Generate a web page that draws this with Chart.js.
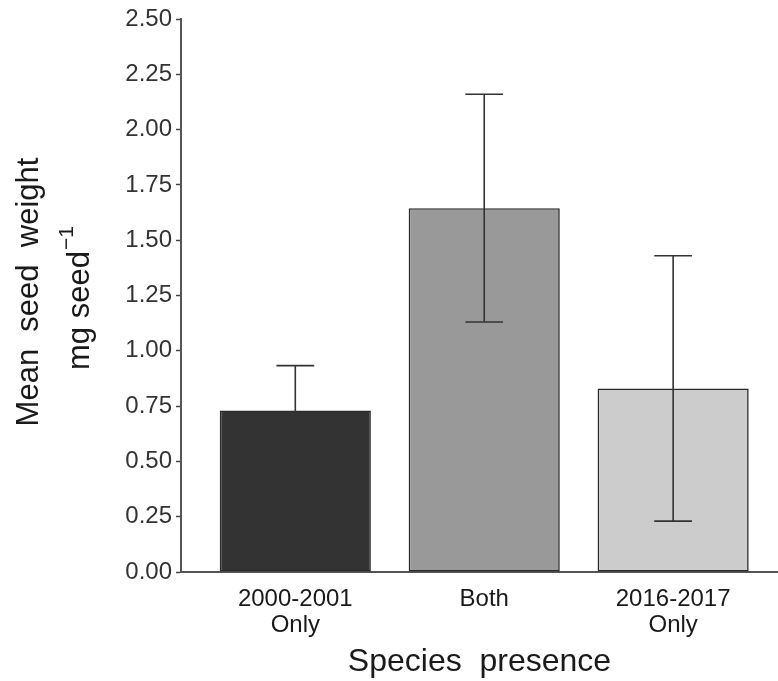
<!DOCTYPE html>
<html>
<head>
<meta charset="utf-8">
<script src="https://cdn.jsdelivr.net/npm/chart.js@4/dist/chart.umd.min.js"></script>
<style>
  html, body { margin: 0; padding: 0; background: #ffffff; }
  #wrap { width: 778px; height: 681px; }
</style>
</head>
<body>
<div id="wrap"><canvas id="c" width="778" height="681"></canvas></div>
<script>
// ---- data ----
const categories = [['2000-2001', 'Only'], ['Both'], ['2016-2017', 'Only']];
const meanWeight = [0.73, 1.645, 0.83];
const errorSize  = [0.203, 0.515, 0.60];
const barColors  = ['#333333', '#999999', '#cccccc'];
const yTicks     = [0, 0.25, 0.5, 0.75, 1.0, 1.25, 1.5, 1.75, 2.0, 2.25, 2.5];
const xTitle = 'Species  presence';
const yTitle1 = 'Mean  seed  weight';
const yTitle2 = 'mg seed';
const yTitleSup = '\u22121';

const FONT = "'Liberation Sans', Arial, sans-serif";

const errorBars = {
  id: 'errorBars',
  afterDatasetsDraw(chart) {
    const ctx = chart.ctx;
    const xs = chart.scales.x, ys = chart.scales.y;
    ctx.save();
    ctx.strokeStyle = '#333333';
    ctx.lineWidth = 1.6;
    meanWeight.forEach((m, i) => {
      const x = xs.getPixelForValue(i + 1);
      const half = (xs.getPixelForValue(1.1) - xs.getPixelForValue(1));
      const yTop = ys.getPixelForValue(m + errorSize[i]);
      const yBot = ys.getPixelForValue(m - errorSize[i]);
      ctx.beginPath();
      ctx.moveTo(x, yTop); ctx.lineTo(x, yBot);
      ctx.moveTo(x - half, yTop); ctx.lineTo(x + half, yTop);
      ctx.moveTo(x - half, yBot); ctx.lineTo(x + half, yBot);
      ctx.stroke();
    });
    ctx.restore();
  }
};

const yTitlePlugin = {
  id: 'yTitle',
  afterDraw(chart) {
    const ctx = chart.ctx;
    ctx.save();
    ctx.fillStyle = '#1a1a1a';
    ctx.textBaseline = 'middle';
    // line 1
    ctx.save();
    ctx.translate(29, 292);
    ctx.rotate(-Math.PI / 2);
    ctx.font = '31px ' + FONT;
    ctx.textAlign = 'center';
    ctx.fillText(yTitle1, 0, 0);
    ctx.restore();
    // line 2 with superscript
    ctx.save();
    ctx.translate(80, 370);
    ctx.rotate(-Math.PI / 2);
    ctx.font = '31px ' + FONT;
    ctx.textAlign = 'left';
    ctx.fillText(yTitle2, 0, 0);
    const w = ctx.measureText(yTitle2).width;
    ctx.font = '21px ' + FONT;
    ctx.fillText(yTitleSup, w + 1, -13);
    ctx.restore();
    ctx.restore();
  }
};

new Chart(document.getElementById('c'), {
  type: 'bar',
  data: {
    datasets: [{
      data: meanWeight.map((v, i) => ({ x: i + 1, y: v })),
      backgroundColor: barColors,
      borderColor: '#2a2a2a',
      borderWidth: 1.6,
      borderSkipped: false,
      barPercentage: 0.8,
      categoryPercentage: 1.0
    }]
  },
  options: {
    responsive: false,
    devicePixelRatio: 1,
    animation: false,
    layout: { padding: { left: 0, right: 0, top: 19, bottom: 0 } },
    plugins: { legend: { display: false }, tooltip: { enabled: false } },
    scales: {
      x: {
        type: 'linear',
        offset: false,
        min: 0.395,
        max: 3.555,
        afterBuildTicks: (s) => { s.ticks = categories.map((c, i) => ({ value: i + 1 })); },
        afterFit: (s) => { s.height = 109; },
        ticks: {
          autoSkip: false,
          maxRotation: 0,
          padding: 14,
          color: '#1a1a1a',
          font: { family: FONT, size: 24, lineHeight: 1.1 },
          callback: (v) => categories[Math.round(v) - 1]
        },
        grid: { display: false, drawTicks: false, offset: false },
        border: { display: true, color: '#555555', width: 2 },
        title: {
          display: true,
          text: xTitle,
          color: '#1a1a1a',
          font: { family: FONT, size: 32, lineHeight: 1.2 },
          padding: { top: 2, bottom: 0 }
        }
      },
      y: {
        min: 0,
        max: 2.5,
        afterBuildTicks: (s) => { s.ticks = yTicks.map(v => ({ value: v })); },
        afterFit: (s) => { s.width = 181; },
        ticks: {
          padding: 4,
          color: '#333333',
          font: { family: FONT, size: 24 },
          callback: (v) => Number(v).toFixed(2)
        },
        grid: { drawOnChartArea: false, drawTicks: true, tickLength: 5, tickColor: '#444444', tickWidth: 1.5 },
        border: { display: true, color: '#555555', width: 2 }
      }
    }
  },
  plugins: [errorBars, yTitlePlugin]
});
</script>
</body>
</html>
